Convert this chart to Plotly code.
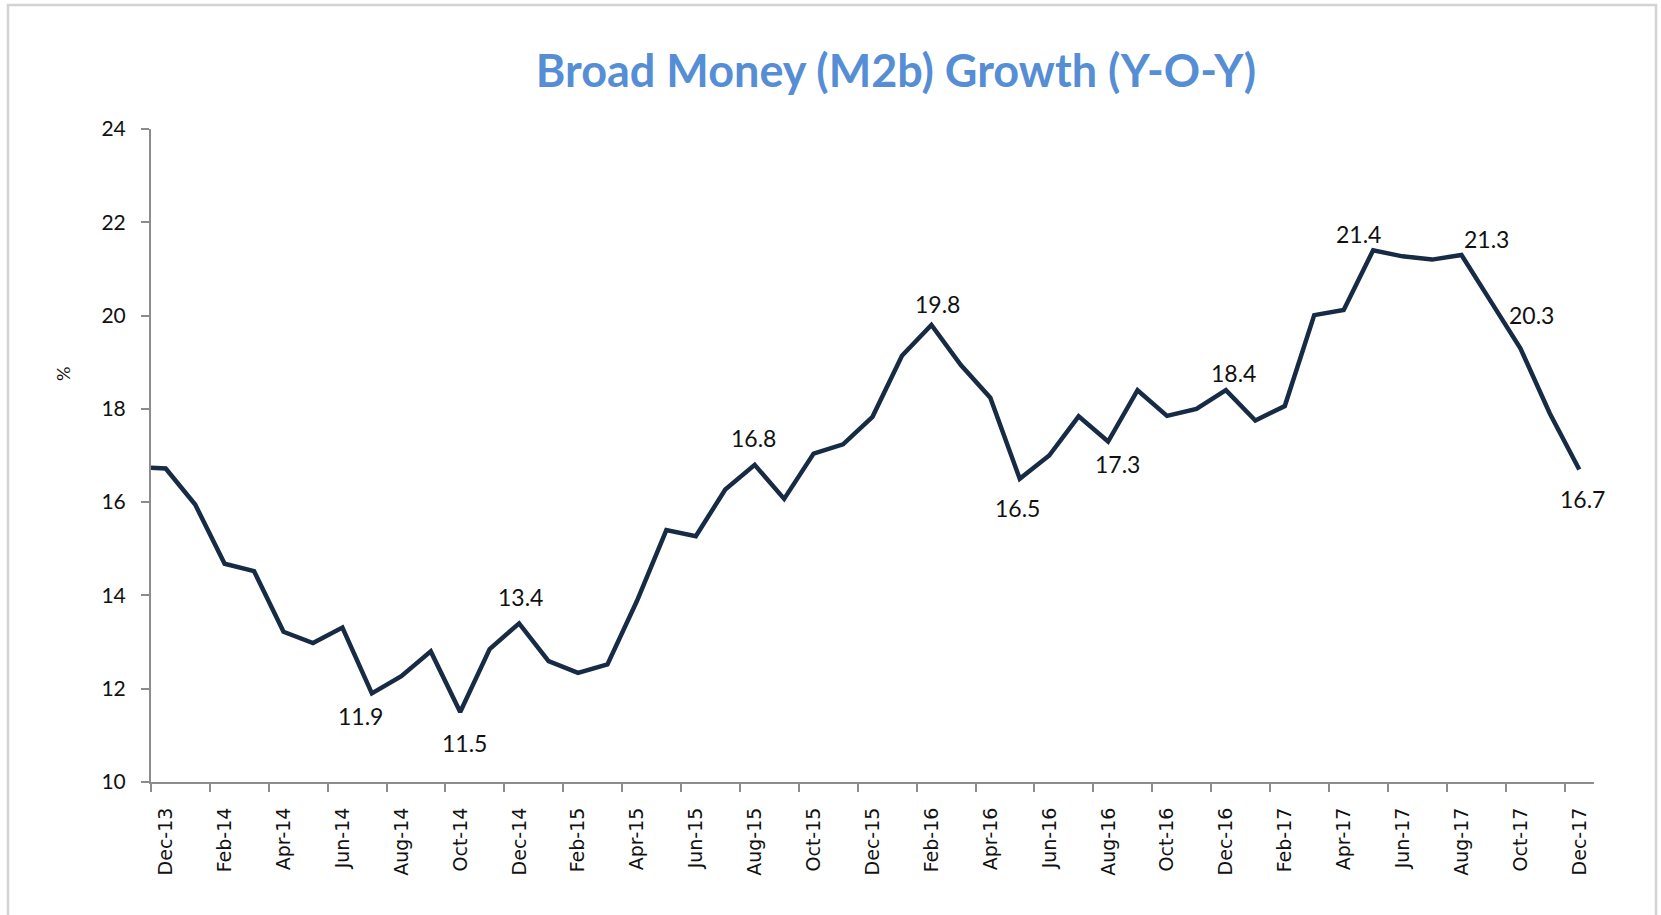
import plotly.graph_objects as go

# Monthly year-on-year growth of broad money (M2b), %
months = [
    "Nov-13", "Dec-13",
    "Jan-14", "Feb-14", "Mar-14", "Apr-14", "May-14", "Jun-14",
    "Jul-14", "Aug-14", "Sep-14", "Oct-14", "Nov-14", "Dec-14",
    "Jan-15", "Feb-15", "Mar-15", "Apr-15", "May-15", "Jun-15",
    "Jul-15", "Aug-15", "Sep-15", "Oct-15", "Nov-15", "Dec-15",
    "Jan-16", "Feb-16", "Mar-16", "Apr-16", "May-16", "Jun-16",
    "Jul-16", "Aug-16", "Sep-16", "Oct-16", "Nov-16", "Dec-16",
    "Jan-17", "Feb-17", "Mar-17", "Apr-17", "May-17", "Jun-17",
    "Jul-17", "Aug-17", "Sep-17", "Oct-17", "Nov-17", "Dec-17",
]
growth = [
    16.75, 16.72,
    15.95, 14.68, 14.52, 13.22, 12.98, 13.31,
    11.9, 12.27, 12.8, 11.5, 12.85, 13.4,
    12.59, 12.34, 12.52, 13.88, 15.4, 15.27,
    16.27, 16.8, 16.07, 17.04, 17.24, 17.83,
    19.14, 19.8, 18.94, 18.24, 16.5, 17.0,
    17.84, 17.3, 18.4, 17.85, 18.0, 18.4,
    17.75, 18.06, 20.01, 20.12, 21.4, 21.27,
    21.2, 21.3, 20.3, 19.3, 17.9, 16.7,
]
first_tick_month = "Dec-13"
tick_months = [
    "Dec-13", "Feb-14", "Apr-14", "Jun-14", "Aug-14", "Oct-14", "Dec-14",
    "Feb-15", "Apr-15", "Jun-15", "Aug-15", "Oct-15", "Dec-15",
    "Feb-16", "Apr-16", "Jun-16", "Aug-16", "Oct-16", "Dec-16",
    "Feb-17", "Apr-17", "Jun-17", "Aug-17", "Oct-17", "Dec-17",
]
y_ticks = [10, 12, 14, 16, 18, 20, 22, 24]

# Labelled months and their label offsets (pixels, right / up)
label_offsets = {
    "Jul-14": (-11, -23),
    "Oct-14": (4, -31),
    "Dec-14": (1, 26),
    "Aug-15": (-1, 27),
    "Feb-16": (6, 21),
    "May-16": (-2, -29),
    "Aug-16": (9, -22),
    "Dec-16": (8, 17),
    "May-17": (-15, 16),
    "Aug-17": (25, 16),
    "Sep-17": (41, -13),
    "Dec-17": (3, -30),
}

# Months sit in the middle of their category slot; slot 0 starts at Dec-13
base = months.index(first_tick_month)
x_vals = [i - base + 0.5 for i in range(len(months))]
tick_vals = [months.index(m) - base for m in tick_months]
n_slots = len(months) - base

W, H = 1661, 915
ML, MR, MT, MB = 151, 67, 129, 133
plot_w = W - ML - MR
plot_h = H - MT - MB
slot_px = plot_w / n_slots

line_color = "#172B45"
axis_color = "#8C8C8C"
label_font = "Lato, 'Open Sans', sans-serif"

fig = go.Figure()
fig.add_trace(go.Scatter(
    x=x_vals, y=growth, mode="lines",
    line=dict(color=line_color, width=4.5),
    hoverinfo="skip", showlegend=False,
))

annotations = []
for m, (dx, dy) in label_offsets.items():
    i = months.index(m)
    annotations.append(dict(
        x=x_vals[i], y=growth[i], xref="x", yref="y",
        text=f"{growth[i]:.1f}", showarrow=False,
        xshift=dx, yshift=dy,
        font=dict(family=label_font, size=23, color="#111111"),
    ))

# y-axis unit
annotations.append(dict(
    x=(50 - ML) / plot_w, y=(H - MB - 374) / plot_h,
    xref="paper", yref="paper", text="%", showarrow=False,
    textangle=-90, font=dict(family=label_font, size=18, color="#111111"),
))

# light frame around the chart
frame = dict(
    type="rect", xref="paper", yref="paper",
    x0=(8 - ML) / plot_w, x1=(1656 - ML) / plot_w,
    y0=(H - MB - 930) / plot_h, y1=(H - MB - 5) / plot_h,
    line=dict(color="#D3D3D3", width=2.5), fillcolor="rgba(0,0,0,0)",
    layer="below",
)

fig.update_layout(
    width=W, height=H,
    margin=dict(l=ML, r=MR, t=MT, b=MB),
    paper_bgcolor="white", plot_bgcolor="white",
    title=dict(
        text="<b>Broad Money (M2b) Growth (Y-O-Y)</b>",
        x=896 / W, xanchor="center", xref="container",
        y=1 - 71 / H, yanchor="middle", yref="container",
        font=dict(family="Lato, 'Open Sans', sans-serif", size=45, color="#558ED5"),
    ),
    xaxis=dict(
        range=[0, n_slots], tickmode="array", tickvals=tick_vals, ticktext=tick_months,
        tickangle=-90, ticks="outside", ticklen=8, tickcolor=axis_color, tickwidth=1.5,
        showline=True, linecolor=axis_color, linewidth=2,
        showgrid=False, zeroline=False, ticklabelstandoff=8,
        ticklabelshift=round(slot_px / 2),
        tickfont=dict(family="'DejaVu Sans', Verdana, sans-serif", size=19, color="#111111"),
    ),
    yaxis=dict(
        range=[10, 24], tickmode="array", tickvals=y_ticks,
        ticks="outside", ticklen=8, tickcolor=axis_color, tickwidth=1.5,
        showline=True, linecolor=axis_color, linewidth=2,
        showgrid=False, zeroline=False, ticklabelstandoff=11,
        tickfont=dict(family=label_font, size=21, color="#111111"),
    ),
    annotations=annotations,
    shapes=[frame],
)

fig.write_html("out.html")
